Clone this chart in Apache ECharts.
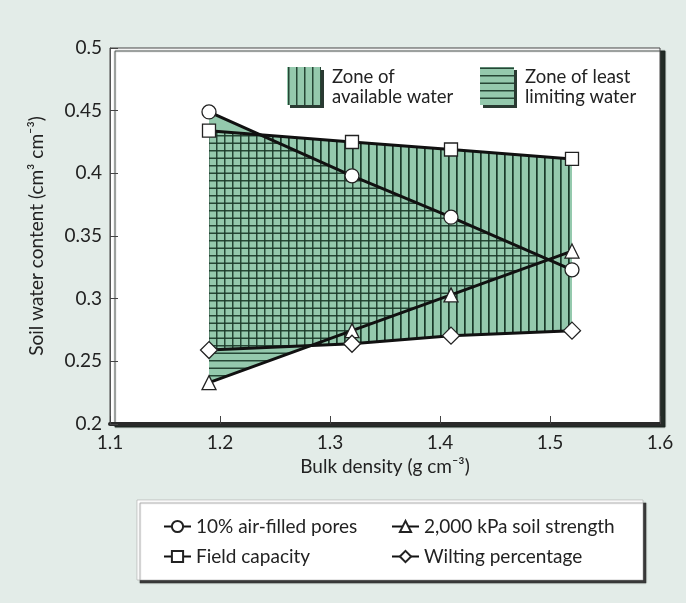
<!DOCTYPE html>
<html><head><meta charset="utf-8">
<script src="https://cdn.jsdelivr.net/npm/echarts@6/dist/echarts.min.js"></script>
<style>html,body{margin:0;padding:0;background:#e3ece8;}#c{width:686px;height:603px;}</style>
</head><body><div id="c"></div>
<script>
// ---- data ----
const bulkDensity = [1.19, 1.32, 1.41, 1.52];
const airFilledPores = [0.449, 0.398, 0.365, 0.323];
const fieldCapacity = [0.434, 0.425, 0.419, 0.4115];
const soilStrength = [0.233, 0.2745, 0.303, 0.338];
const wiltingPct = [0.259, 0.264, 0.2705, 0.2745];
const xTicks = [1.1, 1.2, 1.3, 1.4, 1.5, 1.6];
const yTicks = [0.2, 0.25, 0.3, 0.35, 0.4, 0.45, 0.5];
const seriesNames = ['10% air-filled pores', '2,000 kPa soil strength', 'Field capacity', 'Wilting percentage'];
const zoneNames = [['Zone of', 'available water'], ['Zone of least', 'limiting water']];

// ---- helpers ----
const GREEN = '#94c9ad', HATCH = 'rgba(25,55,40,0.9)';
function makePattern(kind, bg) {
  const c = document.createElement('canvas');
  if (kind === 'v') { c.width = 8; c.height = 8; } else { c.width = 8; c.height = 15; }
  const g = c.getContext('2d');
  if (bg) { g.fillStyle = GREEN; g.fillRect(0, 0, c.width, c.height); }
  g.fillStyle = HATCH;
  if (kind === 'v') { g.fillRect(0, 0, 1.5, c.height); }
  else { g.fillRect(0, 0, c.width, 1.5); g.fillRect(0, 7.5, c.width, 1.5); }
  return { image: c, repeat: 'repeat' };
}
const patVBg = makePattern('v', true), patHBg = makePattern('h', true), patV = makePattern('v', false);

function at(arr, x) {
  for (let i = 0; i < bulkDensity.length - 1; i++) {
    if (x <= bulkDensity[i + 1] + 1e-12) {
      const t = (x - bulkDensity[i]) / (bulkDensity[i + 1] - bulkDensity[i]);
      return arr[i] + t * (arr[i + 1] - arr[i]);
    }
  }
  return arr[arr.length - 1];
}
function breakpoints(arrs) {
  const bp = bulkDensity.slice();
  for (let i = 0; i < bulkDensity.length - 1; i++)
    for (let a = 0; a < arrs.length; a++)
      for (let b = a + 1; b < arrs.length; b++) {
        const d0 = arrs[a][i] - arrs[b][i], d1 = arrs[a][i + 1] - arrs[b][i + 1];
        if (d0 * d1 < 0) bp.push(bulkDensity[i] + d0 / (d0 - d1) * (bulkDensity[i + 1] - bulkDensity[i]));
      }
  return bp.sort((p, q) => p - q);
}
const bp = breakpoints([airFilledPores, fieldCapacity, soilStrength, wiltingPct]);
function poly(api, upper, lower) {
  const top = bp.map(x => api.coord([x, Math.max(upper(x), lower(x))]));
  const bot = bp.slice().reverse().map(x => api.coord([x, lower(x)]));
  return top.concat(bot);
}
const upAvail = x => at(fieldCapacity, x), loAvail = x => at(wiltingPct, x);
const upLL = x => Math.min(at(fieldCapacity, x), at(airFilledPores, x)), loLL = x => at(soilStrength, x);
const upWedge = x => at(airFilledPores, x), loWedge = x => at(fieldCapacity, x);

const chart = echarts.init(document.getElementById('c'));
const font = 'Lato, "Open Sans", sans-serif';
function lineSeries(name, data, symbol, size) {
  return {
    name, type: 'line', z: 3,
    data: bulkDensity.map((x, i) => [x, data[i]]),
    symbol, symbolSize: size,
    lineStyle: { color: '#111', width: 3 },
    itemStyle: { color: '#fff', borderColor: '#222', borderWidth: 1.3 },
    emphasis: { disabled: true }
  };
}
const legendPos = [[158, 512], [386, 512], [158, 542], [386, 542]];
const topLegend = [];
[[287, patVBg], [480, patHBg]].forEach((d, k) => {
  topLegend.push({ type: 'rect', z: 20, shape: { x: d[0] + 3, y: 70, width: 34, height: 38 }, style: { fill: '#2a3a32' } });
  topLegend.push({ type: 'rect', z: 21, shape: { x: d[0], y: 67, width: 34, height: 38 }, style: { fill: d[1] } });
  topLegend.push({ type: 'text', z: 22, x: d[0] + 45, y: 67, style: { text: zoneNames[k].join('\n'), font: '18.5px ' + font, fill: '#222', lineHeight: 20 } });
});

chart.setOption({
  animation: false,
  backgroundColor: '#e3ece8',
  grid: { left: 110, right: 26, top: 48, bottom: 179, show: true, backgroundColor: '#fff', borderColor: '#444', borderWidth: 1,
    shadowColor: 'rgba(25,35,30,0.95)', shadowOffsetX: 5, shadowOffsetY: 3, shadowBlur: 1 },
  xAxis: {
    type: 'value', min: 1.1, max: 1.6, interval: 0.1,
    name: 'Bulk density (g cm⁻³)', nameLocation: 'middle', nameGap: 32,
    nameTextStyle: { fontFamily: font, fontSize: 19, color: '#222' },
    axisLine: { lineStyle: { color: '#2a2a2a', width: 4 } },
    axisTick: { inside: true, length: 8, lineStyle: { color: '#444', width: 1 } },
    axisLabel: { fontFamily: font, fontSize: 19, color: '#222', margin: 9, formatter: v => v.toFixed(1) },
    splitLine: { show: false }
  },
  yAxis: {
    type: 'value', min: 0.2, max: 0.5, interval: 0.05,
    name: 'Soil water content (cm³ cm⁻³)', nameLocation: 'middle', nameGap: 64,
    nameTextStyle: { fontFamily: font, fontSize: 19, color: '#222' },
    axisLine: { show: true, lineStyle: { color: '#555', width: 1 } },
    axisTick: { show: true, inside: true, length: 8, lineStyle: { color: '#444' } },
    axisLabel: { fontFamily: font, fontSize: 19, color: '#222', margin: 8, formatter: v => String(parseFloat(v.toFixed(2))) },
    splitLine: { show: false }
  },
  legend: seriesNames.map((n, i) => ({
    data: [n], left: legendPos[i][0], top: legendPos[i][1], z: 10,
    itemWidth: 27, itemHeight: 14, itemGap: 6,
    textStyle: { fontFamily: font, fontSize: 19, color: '#222' }
  })),
  graphic: [
    { type: 'rect', z: 1, shape: { x: 137, y: 500, width: 506, height: 80 },
      style: { fill: '#fff', stroke: '#999', lineWidth: 0.5, shadowColor: 'rgba(40,40,40,0.9)', shadowOffsetX: 3, shadowOffsetY: 3, shadowBlur: 1 } }
  ].concat(topLegend),
  series: [
    {
      type: 'custom', z: 1, silent: true, data: [[1.3, 0.3]],
      renderItem: (params, api) => ({
        type: 'group', children: [
          { type: 'polygon', shape: { points: poly(api, upWedge, loWedge) }, style: { fill: GREEN } },
          { type: 'polygon', shape: { points: poly(api, upAvail, loAvail) }, style: { fill: patVBg } },
          { type: 'polygon', shape: { points: poly(api, upLL, loLL) }, style: { fill: patHBg } },
          { type: 'polygon', shape: { points: poly(api, upAvail, loAvail) }, style: { fill: patV } }
        ]
      })
    },
    lineSeries(seriesNames[0], airFilledPores, 'circle', 14),
    lineSeries(seriesNames[1], soilStrength, 'triangle', 14),
    lineSeries(seriesNames[2], fieldCapacity, 'rect', 13),
    lineSeries(seriesNames[3], wiltingPct, 'diamond', [17, 17])
  ]
});
</script></body></html>
